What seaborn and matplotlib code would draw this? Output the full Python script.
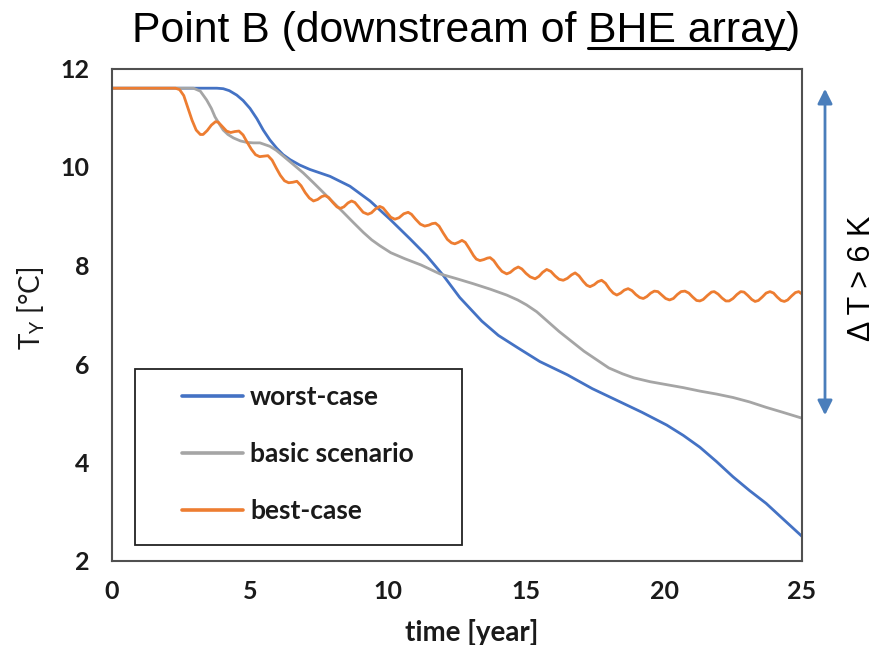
import numpy as np
import pandas as pd
import matplotlib
matplotlib.use("Agg")
import matplotlib.pyplot as plt
import seaborn as sns
from matplotlib.lines import Line2D
from matplotlib.patches import Rectangle, FancyArrowPatch

# ---- data ----
worst_x = [0, 3.8, 4.03, 4.25, 4.52, 4.75, 5.0, 5.25, 5.48, 5.72, 5.97, 6.2, 6.45, 6.8,
           7.17, 7.9, 8.62, 9.35, 10.07, 10.8, 11.4, 12.0, 12.6, 13.4, 14.0, 14.7, 15.5,
           16.5, 17.4, 18.3, 19.2, 20.1, 20.7, 21.3, 21.9, 22.5, 23.1, 23.7, 24.3, 25.0]
worst_y = [11.6, 11.6, 11.59, 11.55, 11.46, 11.35, 11.19, 10.98, 10.75, 10.55, 10.38,
           10.25, 10.15, 10.04, 9.95, 9.81, 9.61, 9.31, 8.94, 8.54, 8.2, 7.8, 7.35, 6.87,
           6.58, 6.33, 6.05, 5.78, 5.5, 5.26, 5.02, 4.76, 4.55, 4.31, 4.02, 3.71, 3.43,
           3.17, 2.86, 2.5]

basic_x = [0, 2.95, 3.2, 3.43, 3.6, 3.73, 3.88, 4.03, 4.2, 4.4, 4.65, 4.88, 5.12, 5.36,
           5.72, 5.95, 6.21, 6.55, 6.93, 7.3, 7.66, 8.02, 8.38, 8.75, 9.11, 9.41, 9.71,
           10.1, 10.6, 11.2, 11.88, 12.5, 13.09, 13.7, 14.3, 14.7, 15.02, 15.39, 16.2,
           17.1, 18.0, 18.5, 18.9, 19.5, 20.1, 20.7, 21.3, 21.9, 22.5, 23.1, 23.7, 24.3,
           25.0]
basic_y = [11.6, 11.6, 11.54, 11.36, 11.19, 11.02, 10.88, 10.75, 10.66, 10.59, 10.53,
           10.5, 10.49, 10.49, 10.42, 10.34, 10.22, 10.06, 9.88, 9.68, 9.48, 9.28, 9.08,
           8.87, 8.67, 8.52, 8.4, 8.26, 8.14, 8.01, 7.83, 7.73, 7.63, 7.52, 7.4, 7.3, 7.2,
           7.06, 6.66, 6.26, 5.92, 5.8, 5.72, 5.64, 5.58, 5.52, 5.45, 5.39, 5.32, 5.23,
           5.12, 5.02, 4.9]

best_x = [0, 2.3, 2.45, 2.6, 2.75, 2.9, 3.05, 3.2, 3.3, 3.45, 3.6, 3.75, 3.85, 4.0, 4.15,
          4.3, 4.45, 4.6, 4.75, 4.9, 5.05, 5.2, 5.35, 5.5, 5.65, 5.8, 5.95, 6.1, 6.25, 6.4,
          6.55, 6.7, 6.85, 7.0, 7.15, 7.3, 7.45, 7.6, 7.72, 7.85, 8.0, 8.15, 8.27, 8.4,
          8.55, 8.68, 8.8, 8.95, 9.1, 9.27, 9.4, 9.55, 9.7, 9.82, 9.97, 10.1, 10.25, 10.4,
          10.57, 10.73, 10.85, 11.0, 11.17, 11.33, 11.48, 11.6, 11.72, 11.85, 12.0, 12.15,
          12.3, 12.42, 12.55, 12.68, 12.8, 12.95, 13.1, 13.2, 13.33, 13.47, 13.6, 13.7,
          13.83, 13.98, 14.13, 14.3, 14.43, 14.58, 14.72, 14.85, 15.0, 15.15, 15.33, 15.47,
          15.6, 15.75, 15.9, 16.05, 16.2, 16.35, 16.5, 16.65, 16.78, 16.92, 17.07, 17.2,
          17.32, 17.47, 17.6, 17.74, 17.88, 18.03, 18.16, 18.29, 18.43, 18.56, 18.7, 18.84,
          18.98, 19.12, 19.25, 19.38, 19.52, 19.65, 19.78, 19.92, 20.06, 20.2, 20.34,
          20.48, 20.62, 20.76, 20.9, 21.04, 21.18, 21.3, 21.42, 21.57, 21.72, 21.82, 21.96,
          22.1, 22.24, 22.36, 22.5, 22.64, 22.78, 22.9, 23.04, 23.18, 23.3, 23.42, 23.56,
          23.7, 23.84, 23.97, 24.1, 24.24, 24.36, 24.48, 24.62, 24.76, 24.88, 25.0]
best_y = [11.6, 11.6, 11.57, 11.45, 11.2, 10.95, 10.75, 10.66, 10.66, 10.74, 10.85, 10.92,
          10.91, 10.82, 10.73, 10.70, 10.72, 10.73, 10.65, 10.5, 10.36, 10.25, 10.21,
          10.22, 10.23, 10.14, 9.98, 9.83, 9.72, 9.68, 9.69, 9.71, 9.62, 9.48, 9.37, 9.31,
          9.34, 9.40, 9.42, 9.38, 9.28, 9.19, 9.16, 9.19, 9.27, 9.31, 9.28, 9.18, 9.08,
          9.04, 9.07, 9.15, 9.20, 9.17, 9.07, 8.98, 8.94, 8.97, 9.05, 9.08, 9.04, 8.94,
          8.84, 8.80, 8.82, 8.85, 8.86, 8.8, 8.66, 8.53, 8.46, 8.44, 8.47, 8.51, 8.47,
          8.34, 8.2, 8.13, 8.10, 8.12, 8.15, 8.16, 8.1, 7.98, 7.88, 7.83, 7.86, 7.93, 7.97,
          7.93, 7.84, 7.77, 7.73, 7.78, 7.86, 7.92, 7.88, 7.79, 7.72, 7.70, 7.74, 7.81,
          7.85, 7.79, 7.68, 7.6, 7.57, 7.61, 7.67, 7.70, 7.64, 7.52, 7.44, 7.40, 7.44, 7.5,
          7.53, 7.49, 7.41, 7.35, 7.33, 7.37, 7.44, 7.48, 7.47, 7.40, 7.33, 7.30, 7.33,
          7.41, 7.47, 7.48, 7.44, 7.36, 7.29, 7.28, 7.31, 7.39, 7.46, 7.47, 7.42, 7.34,
          7.28, 7.28, 7.33, 7.41, 7.47, 7.46, 7.39, 7.31, 7.27, 7.29, 7.36, 7.44, 7.47,
          7.44, 7.36, 7.29, 7.27, 7.3, 7.38, 7.45, 7.47, 7.42]

series_names = ["worst-case", "basic scenario", "best-case"]
series_colors = ["#4472C4", "#A5A5A5", "#ED7D31"]
x_ticks = [0, 5, 10, 15, 20, 25]
y_ticks = [2, 4, 6, 8, 10, 12]

df = pd.concat([
    pd.DataFrame({"time": worst_x, "T": worst_y, "scenario": series_names[0]}),
    pd.DataFrame({"time": basic_x, "T": basic_y, "scenario": series_names[1]}),
    pd.DataFrame({"time": best_x, "T": best_y, "scenario": series_names[2]}),
], ignore_index=True)

sns.set_theme(style="white")
plt.rcParams["font.family"] = ["Lato", "DejaVu Sans"]

W, H = 888, 645
AX_L, AX_R, AX_T, AX_B = 112, 802, 68.5, 561
AW, AH = AX_R - AX_L, AX_B - AX_T
fig = plt.figure(figsize=(W / 100, H / 100), dpi=100)
ax = fig.add_axes([AX_L / W, 1 - AX_B / H, AW / W, AH / H])

sns.lineplot(data=df, x="time", y="T", hue="scenario", hue_order=series_names,
             palette=series_colors, sort=False, estimator=None, linewidth=2.0,
             legend=False, ax=ax)

ax.set_xlim(0, 25)
ax.set_ylim(2, 12)
ax.set_xticks(x_ticks)
ax.set_yticks(y_ticks)
ax.tick_params(direction="in", length=6, width=1.2, colors="#404040",
               labelcolor="#1a1a1a", labelsize=18)
ax.tick_params(axis="y", pad=16.5)
ax.tick_params(axis="x", pad=14)
for lab in ax.get_xticklabels() + ax.get_yticklabels():
    lab.set_fontweight("bold")
for s in ax.spines.values():
    s.set_visible(True)
    s.set_color("#505050")
    s.set_linewidth(1.5)

ax.set_xlabel("time [year]", fontsize=20, fontweight="bold", color="#1a1a1a")
ax.xaxis.set_label_coords((472 - AX_L) / AW, (AX_B - 632) / AH)
ax.xaxis.label.set_va("center")
ax.set_ylabel(r"T$_\mathregular{Y}$ [°C]", fontsize=20, color="#1a1a1a")
ax.yaxis.set_label_coords((31 - AX_L) / AW, (AX_B - 308) / AH)
ax.yaxis.label.set_va("center")
ax.yaxis.label.set_rotation_mode("default")

# legend box
ax.add_patch(Rectangle(((135 - AX_L) / AW, (AX_B - 545) / AH), (462 - 135) / AW,
                       (545 - 369) / AH, transform=ax.transAxes, fill=True,
                       facecolor="white", edgecolor="#222222", linewidth=1.3, zorder=5))
handles = [Line2D([0], [0], color=c, lw=2.6) for c in series_colors]
leg = ax.legend(handles, series_names, loc="upper left",
                bbox_to_anchor=((182 - AX_L) / AW, (AX_B - 385) / AH),
                frameon=False, prop={"size": 19, "weight": "bold"},
                handlelength=2.3, handletextpad=0.28,
                labelspacing=1.25, borderpad=0.0, borderaxespad=0.0)
leg.set_zorder(6)
for t in leg.get_texts():
    t.set_color("#1a1a1a")

# title with underlined part
fig.canvas.draw()
r = fig.canvas.get_renderer()
tfont = dict(fontsize=30.8, family=["Liberation Sans", "DejaVu Sans"], color="black")
parts = ["Point B (downstream of ", "BHE array", ")"]
texts = [fig.text(0, 1 - 42 / H, p, ha="left", va="baseline", **tfont) for p in parts]
widths = [t.get_window_extent(r).width for t in texts]
total = sum(widths)
x0 = 466 - total / 2
for t, w in zip(texts, widths):
    t.set_x(x0 / W)
    x0 += w
ux0 = texts[1].get_position()[0]
ux1 = ux0 + widths[1] / W
fig.add_artist(Line2D([ux0, ux1], [1 - 48 / H, 1 - 48 / H], color="black", lw=2.2,
                      transform=fig.transFigure))

# delta-T arrow
fig.add_artist(FancyArrowPatch(
    (825 / W, 1 - 418 / H), (825 / W, 1 - 86 / H), transform=fig.transFigure,
    arrowstyle="<|-|>", mutation_scale=22, color="#4A7EBB", lw=2.0))
fig.text(862 / W, 1 - 278 / H, "Δ T > 6 K", rotation=90, ha="center", va="center",
         fontsize=22, family=["Liberation Sans", "DejaVu Sans"], color="black")

fig.savefig("out.png", dpi=100)
